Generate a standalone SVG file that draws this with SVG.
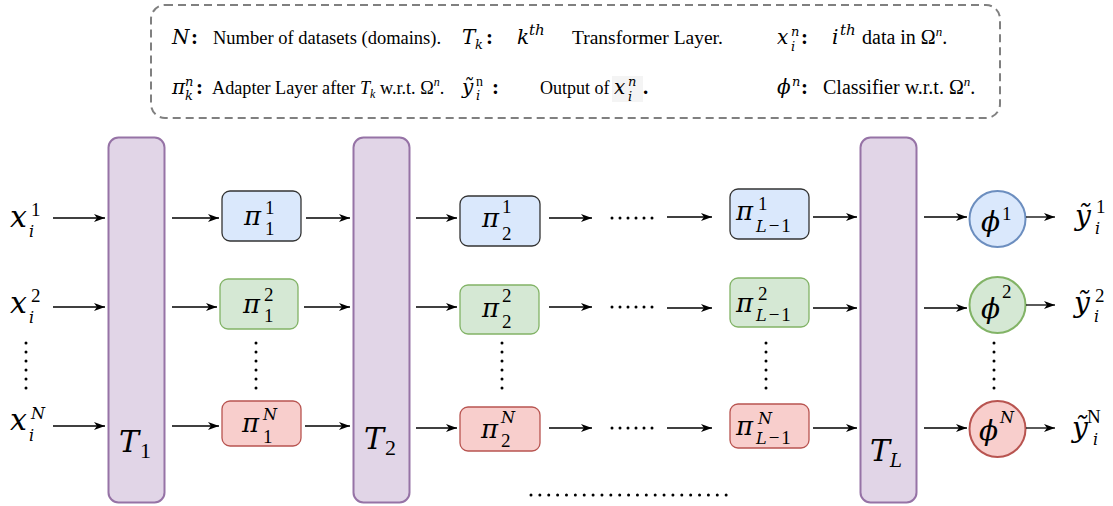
<svg xmlns="http://www.w3.org/2000/svg" width="1113" height="506" viewBox="0 0 1113 506">
<defs>
<style>
.m{font-family:"DejaVu Serif","Liberation Serif",serif;font-style:italic;fill:#000}
.d{font-family:"Liberation Serif","DejaVu Serif",serif;font-style:normal}
.lt{font-family:"Liberation Serif","DejaVu Serif",serif;fill:#000}
.col{font-family:"Liberation Serif","DejaVu Serif",serif;font-weight:bold;font-size:21px;font-style:normal}
.tb{fill:#e1d5e7;stroke:#9673a6;stroke-width:2}
.bb{fill:#dae8fc;stroke:#333;stroke-width:1.3}
.gb{fill:#d5e8d4;stroke:#82b366;stroke-width:1.3}
.rb{fill:#f8cecc;stroke:#b85450;stroke-width:1.3}
.bc{fill:#dae8fc;stroke:#6c8ebf;stroke-width:2}
.gc{fill:#d5e8d4;stroke:#82b366;stroke-width:2}
.rc{fill:#f8cecc;stroke:#b85450;stroke-width:2}
.e{stroke:#000;stroke-width:1.3;fill:none;marker-end:url(#ah)}
.dv{stroke:#000;stroke-width:3;stroke-linecap:round;stroke-dasharray:0 9;fill:none}
.dh{stroke:#000;stroke-width:3;stroke-linecap:round;stroke-dasharray:0 8;fill:none}
.sd{font-family:"Liberation Serif","DejaVu Serif",serif;font-style:normal;font-size:19px}
.si{font-size:16px}
</style>
<marker id="ah" markerWidth="11" markerHeight="8" refX="11" refY="4" orient="auto" markerUnits="userSpaceOnUse"><path d="M0,0 L11,4 L0,8 L3,4 Z" fill="#000"/></marker>
</defs>

<g id="legend">
<rect x="151" y="5" width="849" height="113" rx="14" fill="none" stroke="#808080" stroke-width="2" stroke-dasharray="8 5"/>
<text class="m" font-size="20"><tspan x="172" y="44">N</tspan><tspan class="col" x="191" y="44">:</tspan></text>
<text class="lt" x="213" y="44" font-size="18.5">Number of datasets (domains).</text>
<text class="m" font-size="20"><tspan x="462" y="44">T</tspan><tspan font-size="13" x="475" y="49">k</tspan><tspan class="col" x="486" y="44">:</tspan></text>
<text class="m" font-size="20"><tspan x="517" y="44">k</tspan><tspan font-size="15" x="529" y="35">th</tspan></text>
<text class="lt" x="572" y="44" font-size="19.5">Transformer Layer.</text>
<text class="m" font-size="20"><tspan x="777" y="44">x</tspan><tspan font-size="13" x="791" y="36">n</tspan><tspan font-size="13" x="791" y="51">i</tspan><tspan class="col" x="801" y="44">:</tspan></text>
<text class="m" font-size="20"><tspan x="832" y="44">i</tspan><tspan font-size="15" x="840" y="35">th</tspan></text>
<text class="lt" x="862" y="44" font-size="20">data in Ω<tspan font-size="13" dy="-8" font-style="italic">n</tspan><tspan dy="8">.</tspan></text>

<text class="m" font-size="20"><tspan x="172" y="94">π</tspan><tspan font-size="13" x="185" y="86">n</tspan><tspan font-size="13" x="185" y="100">k</tspan><tspan class="col" x="196" y="94">:</tspan></text>
<text class="lt" x="212" y="94" font-size="18.2">Adapter Layer after <tspan font-style="italic">T</tspan><tspan font-style="italic" font-size="12" dy="4">k</tspan><tspan dy="-4"> w.r.t. Ω</tspan><tspan font-size="12" dy="-8" font-style="italic">n</tspan><tspan dy="8">.</tspan></text>
<text class="m" font-size="20"><tspan x="462" y="94">ỹ</tspan><tspan class="d" font-size="14" x="476" y="86">n</tspan><tspan font-size="13" x="476" y="100">i</tspan><tspan class="col" x="492" y="94">:</tspan></text>
<text class="lt" x="540" y="94" font-size="18">Output of</text>
<rect x="612" y="76" width="31" height="26" fill="#f4f4f4"/>
<text class="m" font-size="20"><tspan x="614" y="94">x</tspan><tspan font-size="13" x="628" y="86">n</tspan><tspan font-size="13" x="628" y="101">i</tspan><tspan class="col" x="643" y="94">.</tspan></text>
<text class="m" font-size="20"><tspan x="777" y="94">ϕ</tspan><tspan font-size="13" x="792" y="86">n</tspan><tspan class="col" x="801" y="94">:</tspan></text>
<text class="lt" x="823" y="94" font-size="20">Classifier w.r.t. Ω<tspan font-size="13" dy="-8" font-style="italic">n</tspan><tspan dy="8">.</tspan></text>
</g>

<g id="T1"><rect class="tb" x="108.5" y="137.5" width="56" height="365" rx="10"/><text class="m" font-size="30"><tspan x="119" y="452">T</tspan><tspan class="d" font-size="22" x="140" y="458">1</tspan></text></g>
<g id="T2"><rect class="tb" x="353.5" y="137.5" width="56" height="365" rx="10"/><text class="m" font-size="30"><tspan x="364" y="449">T</tspan><tspan class="d" font-size="22" x="385" y="455">2</tspan></text></g>
<g id="TL"><rect class="tb" x="860.5" y="137.5" width="56" height="365" rx="10"/><text class="m" font-size="30"><tspan x="870" y="461">T</tspan><tspan font-size="18" x="890" y="467">L</tspan></text></g>

<g id="x1"><text class="m" font-size="30"><tspan x="10" y="227">x</tspan><tspan class="sd" x="31" y="216">1</tspan><tspan class="si" x="29" y="237">i</tspan></text></g>
<g id="x2"><text class="m" font-size="30"><tspan x="10" y="313">x</tspan><tspan class="sd" x="31" y="302">2</tspan><tspan class="si" x="29" y="323">i</tspan></text></g>
<g id="xN"><text class="m" font-size="30"><tspan x="10" y="430">x</tspan><tspan class="si" x="31" y="419">N</tspan><tspan class="si" x="29" y="441">i</tspan></text></g>

<g id="p11"><rect class="bb" x="222" y="191" width="79" height="50" rx="8"/><text class="m" font-size="26"><tspan x="244" y="225">π</tspan><tspan class="sd" x="265" y="214">1</tspan><tspan class="sd" x="265" y="235">1</tspan></text></g>
<g id="p12"><rect class="gb" x="220" y="279" width="78" height="50" rx="8"/><text class="m" font-size="26"><tspan x="243" y="313">π</tspan><tspan class="sd" x="264" y="301">2</tspan><tspan class="sd" x="264" y="322">1</tspan></text></g>
<g id="p1N"><rect class="rb" x="222" y="401" width="79" height="45" rx="8"/><text class="m" font-size="26"><tspan x="242" y="432">π</tspan><tspan class="si" x="263" y="420">N</tspan><tspan class="sd" x="263" y="443">1</tspan></text></g>

<g id="p21"><rect class="bb" x="460" y="196" width="80" height="50" rx="8"/><text class="m" font-size="26"><tspan x="482" y="227">π</tspan><tspan class="sd" x="502" y="213">1</tspan><tspan class="sd" x="502" y="240">2</tspan></text></g>
<g id="p22"><rect class="gb" x="460" y="285" width="79" height="49" rx="8"/><text class="m" font-size="26"><tspan x="482" y="317">π</tspan><tspan class="sd" x="502" y="302">2</tspan><tspan class="sd" x="502" y="328">2</tspan></text></g>
<g id="p2N"><rect class="rb" x="460" y="407" width="80" height="44" rx="8"/><text class="m" font-size="26"><tspan x="481" y="438">π</tspan><tspan class="si" x="501" y="423">N</tspan><tspan class="sd" x="501" y="447">2</tspan></text></g>

<g id="pL1"><rect class="bb" x="730" y="189" width="79" height="50" rx="8"/><text class="m" font-size="26"><tspan x="736" y="220">π</tspan><tspan class="sd" x="758" y="210">1</tspan><tspan class="si" x="756" y="232">L</tspan><tspan class="sd" dx="2">−</tspan><tspan class="sd" dx="2">1</tspan></text></g>
<g id="pL2"><rect class="gb" x="730" y="278" width="79" height="49" rx="8"/><text class="m" font-size="26"><tspan x="736" y="312">π</tspan><tspan class="sd" x="758" y="300">2</tspan><tspan class="si" x="756" y="321">L</tspan><tspan class="sd" dx="2">−</tspan><tspan class="sd" dx="2">1</tspan></text></g>
<g id="pLN"><rect class="rb" x="730" y="404" width="79" height="44" rx="8"/><text class="m" font-size="26"><tspan x="736" y="435">π</tspan><tspan class="si" x="758" y="424">N</tspan><tspan class="si" x="756" y="444">L</tspan><tspan class="sd" dx="2">−</tspan><tspan class="sd" dx="2">1</tspan></text></g>

<g id="phi1"><circle class="bc" cx="997.5" cy="219" r="28"/><text class="m" font-size="28"><tspan x="981" y="231">ϕ</tspan><tspan class="sd" x="1002" y="220">1</tspan></text></g>
<g id="phi2"><circle class="gc" cx="997.5" cy="305" r="28"/><text class="m" font-size="28"><tspan x="981" y="318">ϕ</tspan><tspan class="sd" x="1002" y="298">2</tspan></text></g>
<g id="phiN"><circle class="rc" cx="997.5" cy="429" r="28"/><text class="m" font-size="28"><tspan x="979" y="440">ϕ</tspan><tspan class="si" x="1000" y="423">N</tspan></text></g>

<g id="y1"><text class="m" font-size="28"><tspan x="1075" y="225">ỹ</tspan><tspan class="sd" x="1096" y="213">1</tspan><tspan class="si" x="1095" y="234">i</tspan></text></g>
<g id="y2"><text class="m" font-size="28"><tspan x="1074" y="312">ỹ</tspan><tspan class="sd" x="1095" y="302">2</tspan><tspan class="si" x="1094" y="322">i</tspan></text></g>
<g id="yN"><text class="m" font-size="28"><tspan x="1072" y="437">ỹ</tspan><tspan class="sd" x="1087" y="423">N</tspan><tspan class="si" x="1093" y="445">i</tspan></text></g>

<g id="connectors">
<path class="e" d="M53,218 H105"/><path class="e" d="M53,307 H105"/><path class="e" d="M53,426 H105"/>
<path class="e" d="M172,218 H219"/><path class="e" d="M172,307 H217"/><path class="e" d="M172,426 H219"/>
<path class="e" d="M306,218 H350"/><path class="e" d="M304,307 H350"/><path class="e" d="M305,426 H350"/>
<path class="e" d="M416,218 H457"/><path class="e" d="M416,307 H457"/><path class="e" d="M416,428 H457"/>
<path class="e" d="M549,218 H592"/><path class="e" d="M549,307 H592"/><path class="e" d="M549,428 H592"/>
<path class="e" d="M667,217 H712"/><path class="e" d="M667,308 H712"/><path class="e" d="M667,428 H712"/>
<path class="e" d="M813,217 H857"/><path class="e" d="M813,308 H857"/><path class="e" d="M813,428 H857"/>
<path class="e" d="M924,217 H967"/><path class="e" d="M924,308 H967"/><path class="e" d="M924,428 H967"/>
<path class="e" d="M1026,217 H1055"/><path class="e" d="M1026,305 H1055"/><path class="e" d="M1026,428 H1055"/>
</g>

<g id="dots">
<path class="dv" d="M26,343 V389"/><path class="dv" d="M256,343 V389"/><path class="dv" d="M502,343 V389"/><path class="dv" d="M766,343 V389"/><path class="dv" d="M994,343 V389"/>
<path class="dh" d="M612,218 H653"/><path class="dh" d="M612,307 H653"/><path class="dh" d="M612,428 H653"/>
<path class="dv" style="stroke-dasharray:0 8.87" d="M531,495 H735"/>
</g>
</svg>
